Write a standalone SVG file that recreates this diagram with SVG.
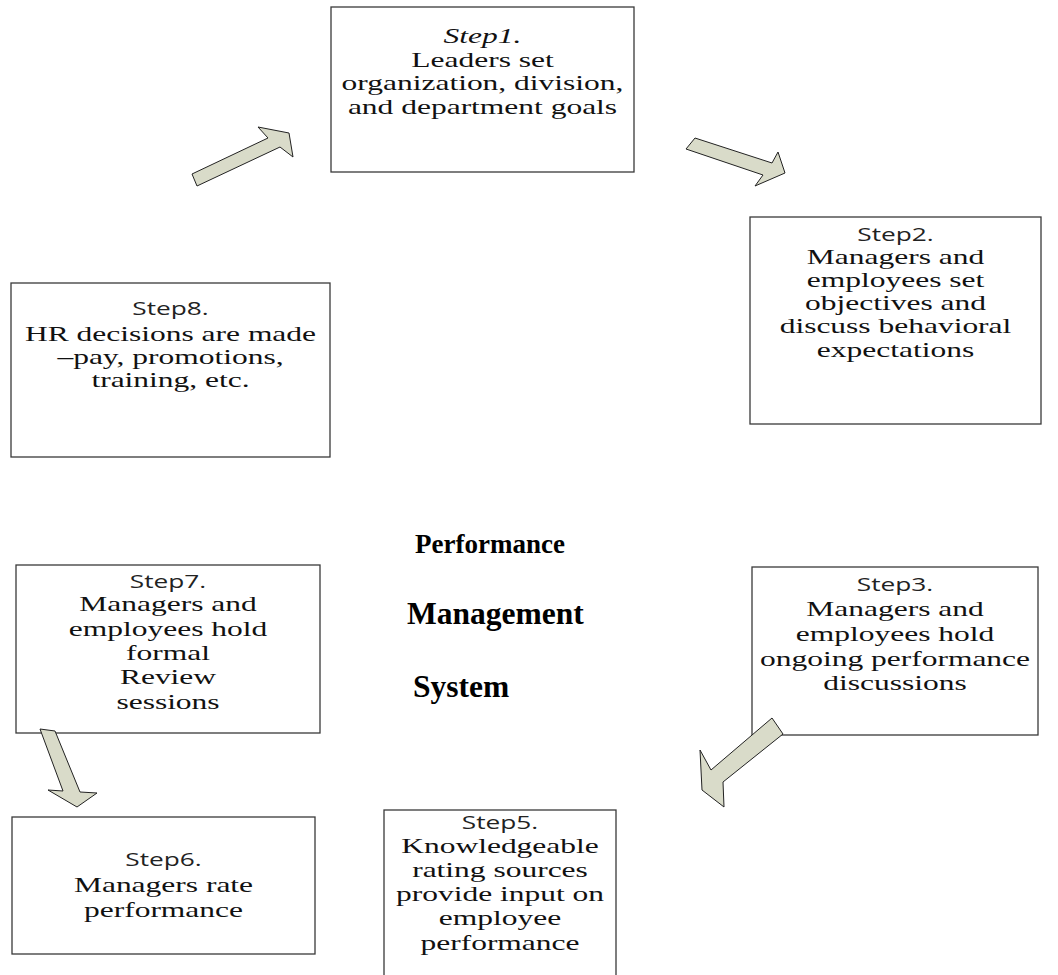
<svg xmlns="http://www.w3.org/2000/svg" width="1058" height="975" viewBox="0 0 1058 975">
<style>
.box{fill:#fff;stroke:#3a3a3a;stroke-width:1.3}
.t{font-family:"Liberation Serif","Times New Roman",serif;font-size:21px;fill:#111;text-anchor:middle}
.lbl{font-family:"Open Sans","Noto Sans",sans-serif;font-size:17.5px;fill:#222;text-anchor:middle}
.it{font-style:italic}
.title{font-family:"Liberation Serif","Times New Roman",serif;font-weight:bold;fill:#000}
.arr{fill:#d9dbc9;stroke:#222;stroke-width:1;stroke-linejoin:miter}
</style>
<rect width="1058" height="975" fill="#fff"/>

<g id="step1">
<rect class="box" x="331" y="7" width="303" height="165"/>
<g transform="translate(482.5,0) scale(1.5,1)">
<text class="t it" x="0" y="43">Step1.</text>
<text class="t" x="0" y="67">Leaders set</text>
<text class="t" x="0" y="90.5">organization, division,</text>
<text class="t" x="0" y="114">and department goals</text>
</g>
</g>

<g id="step2">
<rect class="box" x="750" y="217" width="291" height="207"/>
<g transform="translate(895.5,0) scale(1.5,1)">
<text class="lbl" x="0" y="241">Step2.</text>
<text class="t" x="0" y="264">Managers and</text>
<text class="t" x="0" y="287.5">employees set</text>
<text class="t" x="0" y="310.5">objectives and</text>
<text class="t" x="0" y="333.5">discuss behavioral</text>
<text class="t" x="0" y="357">expectations</text>
</g>
</g>

<g id="step8">
<rect class="box" x="11" y="283" width="319" height="174"/>
<g transform="translate(170.5,0) scale(1.5,1)">
<text class="lbl" x="0" y="315">Step8.</text>
<text class="t" x="0" y="341">HR decisions are made</text>
<text class="t" x="0" y="364">–pay, promotions,</text>
<text class="t" x="0" y="387">training, etc.</text>
</g>
</g>

<g id="title">
<text class="title" x="415" y="553" font-size="27">Performance</text>
<text class="title" x="407" y="624" font-size="31.5">Management</text>
<text class="title" x="413" y="697" font-size="31.5">System</text>
</g>

<g id="step7">
<rect class="box" x="16" y="565" width="304" height="168"/>
<g transform="translate(168,0) scale(1.5,1)">
<text class="lbl" x="0" y="588">Step7.</text>
<text class="t" x="0" y="611">Managers and</text>
<text class="t" x="0" y="636">employees hold</text>
<text class="t" x="0" y="660">formal</text>
<text class="t" x="0" y="684.5">Review</text>
<text class="t" x="0" y="709">sessions</text>
</g>
</g>

<g id="step3">
<rect class="box" x="752" y="567" width="286" height="168"/>
<g transform="translate(895,0) scale(1.5,1)">
<text class="lbl" x="0" y="591">Step3.</text>
<text class="t" x="0" y="616">Managers and</text>
<text class="t" x="0" y="641">employees hold</text>
<text class="t" x="0" y="666">ongoing performance</text>
<text class="t" x="0" y="690">discussions</text>
</g>
</g>

<g id="step5">
<rect class="box" x="384" y="810" width="232" height="180"/>
<g transform="translate(500,0) scale(1.5,1)">
<text class="lbl" x="0" y="829">Step5.</text>
<text class="t" x="0" y="853">Knowledgeable</text>
<text class="t" x="0" y="877">rating sources</text>
<text class="t" x="0" y="901">provide input on</text>
<text class="t" x="0" y="925">employee</text>
<text class="t" x="0" y="950">performance</text>
</g>
</g>

<g id="step6">
<rect class="box" x="12" y="817" width="303" height="137"/>
<g transform="translate(163.5,0) scale(1.5,1)">
<text class="lbl" x="0" y="866">Step6.</text>
<text class="t" x="0" y="892">Managers rate</text>
<text class="t" x="0" y="917">performance</text>
</g>
</g>

<g id="connectors">
<polygon class="arr" points="192,174 268,138 258,127 289,133 293,157 280,147 197,186"/>
<polygon class="arr" points="695,138 772,163 778,152 785,173 755,186 763,175 686,149"/>
<polygon class="arr" points="772,718 711,770 700,750 702,790 724,807 723,782 783,734"/>
<polygon class="arr" points="40,729 55,731 80,792 97,793 77,807 48,790 63,791"/>
</g>
</svg>
